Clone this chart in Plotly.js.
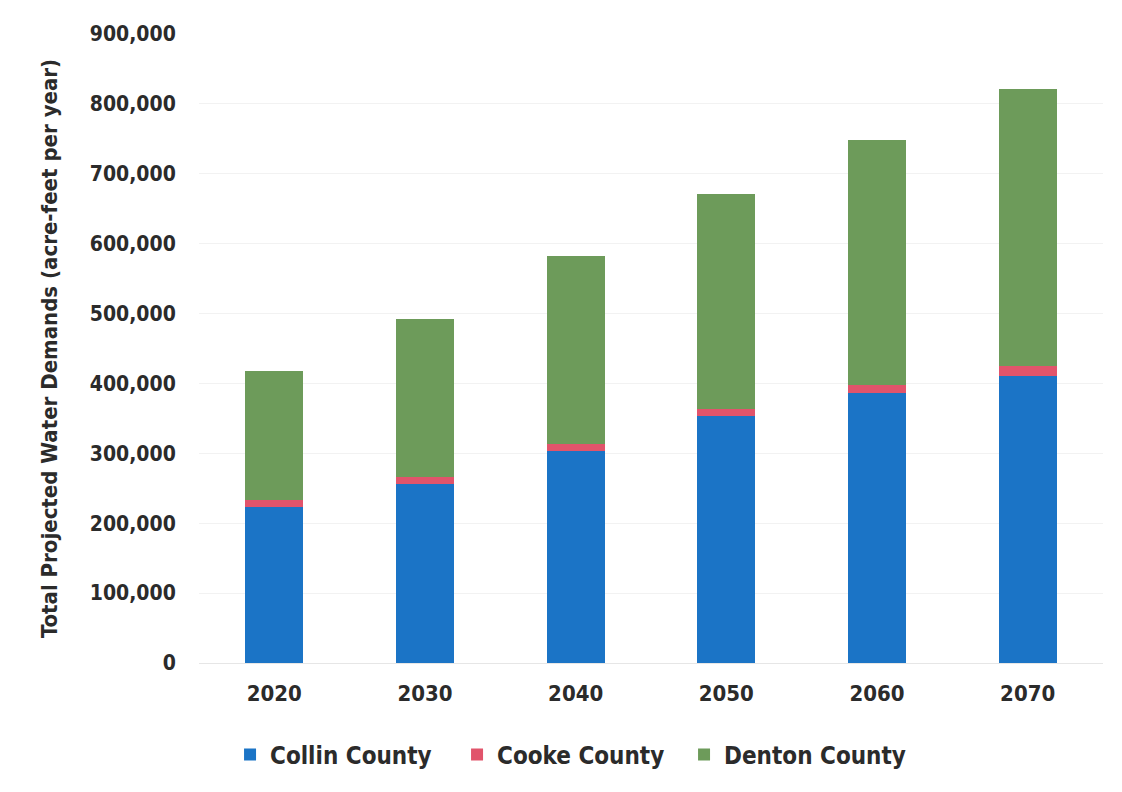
<!DOCTYPE html>
<html>
<head>
<meta charset="utf-8">
<script src="https://cdn.plot.ly/plotly-3.0.1.min.js"></script>
<style>
  html, body { margin: 0; padding: 0; background: #ffffff; }
  #chart { width: 1122px; height: 792px; }
</style>
</head>
<body>
<div id="chart"></div>
<script>
// Projected water demands by county (acre-feet per year)
const decades = ["2020", "2030", "2040", "2050", "2060", "2070"];
const collinCounty = [223000, 256000, 304000, 353000, 386000, 411000];
const cookeCounty = [10000, 10000, 9500, 11000, 12000, 14000];
const dentonCounty = [185000, 226000, 268500, 307000, 351000, 396000];

const seriesNames = ["Collin County", "Cooke County", "Denton County"];
const seriesColors = ["#1b74c6", "#e1546b", "#6d9b5a"];
const seriesValues = [collinCounty, cookeCounty, dentonCounty];

const yTickValues = [0, 100000, 200000, 300000, 400000, 500000, 600000, 700000, 800000, 900000];
const yTickLabels = ["0", "100,000", "200,000", "300,000", "400,000", "500,000", "600,000", "700,000", "800,000", "900,000"];

const fontFamily = "'DejaVu Sans Condensed', 'Liberation Sans', sans-serif";
const textColor = "#2b2b2b";

const traces = seriesNames.map((name, i) => ({
  type: "bar",
  name: name,
  x: decades,
  y: seriesValues[i],
  marker: { color: seriesColors[i], line: { width: 0 } },
  hoverinfo: "x+y+name"
}));

const layout = {
  width: 1122,
  height: 792,
  barmode: "stack",
  bargap: 0.615,
  paper_bgcolor: "#ffffff",
  plot_bgcolor: "#ffffff",
  margin: { l: 199, r: 19, t: 34, b: 129, pad: 0 },
  font: { family: fontFamily, color: textColor, size: 22 },
  xaxis: {
    type: "category",
    tickfont: { family: fontFamily, size: 22, color: textColor, weight: "bold" },
    showgrid: false,
    showline: false,
    ticks: "outside",
    ticklen: 11,
    tickcolor: "rgba(0,0,0,0)",
    automargin: false
  },
  yaxis: {
    range: [0, 900000],
    tickvals: yTickValues,
    ticktext: yTickLabels,
    tickfont: { family: fontFamily, size: 21, color: textColor, weight: "bold" },
    showgrid: true,
    gridcolor: "#f2f2f2",
    gridwidth: 1,
    zeroline: true,
    zerolinecolor: "#e6e6e6",
    zerolinewidth: 1,
    showline: false,
    ticks: "outside",
    ticklen: 18,
    tickcolor: "rgba(0,0,0,0)",
    title: {
      text: "Total Projected Water Demands (acre-feet per year)",
      font: { family: fontFamily, size: 22, color: textColor, weight: "bold" },
      standoff: 26
    },
    automargin: false
  },
  legend: {
    orientation: "h",
    x: 0.411,
    xanchor: "center",
    y: -0.146,
    yanchor: "middle",
    font: { family: fontFamily, size: 24, color: textColor, weight: "bold" },
    itemwidth: 30,
    entrywidth: 182,
    entrywidthmode: "pixels",
    traceorder: "normal",
    bgcolor: "rgba(0,0,0,0)"
  },
  showlegend: true
};

Plotly.newPlot("chart", traces, layout, { displayModeBar: false, staticPlot: true });
</script>
</body>
</html>
